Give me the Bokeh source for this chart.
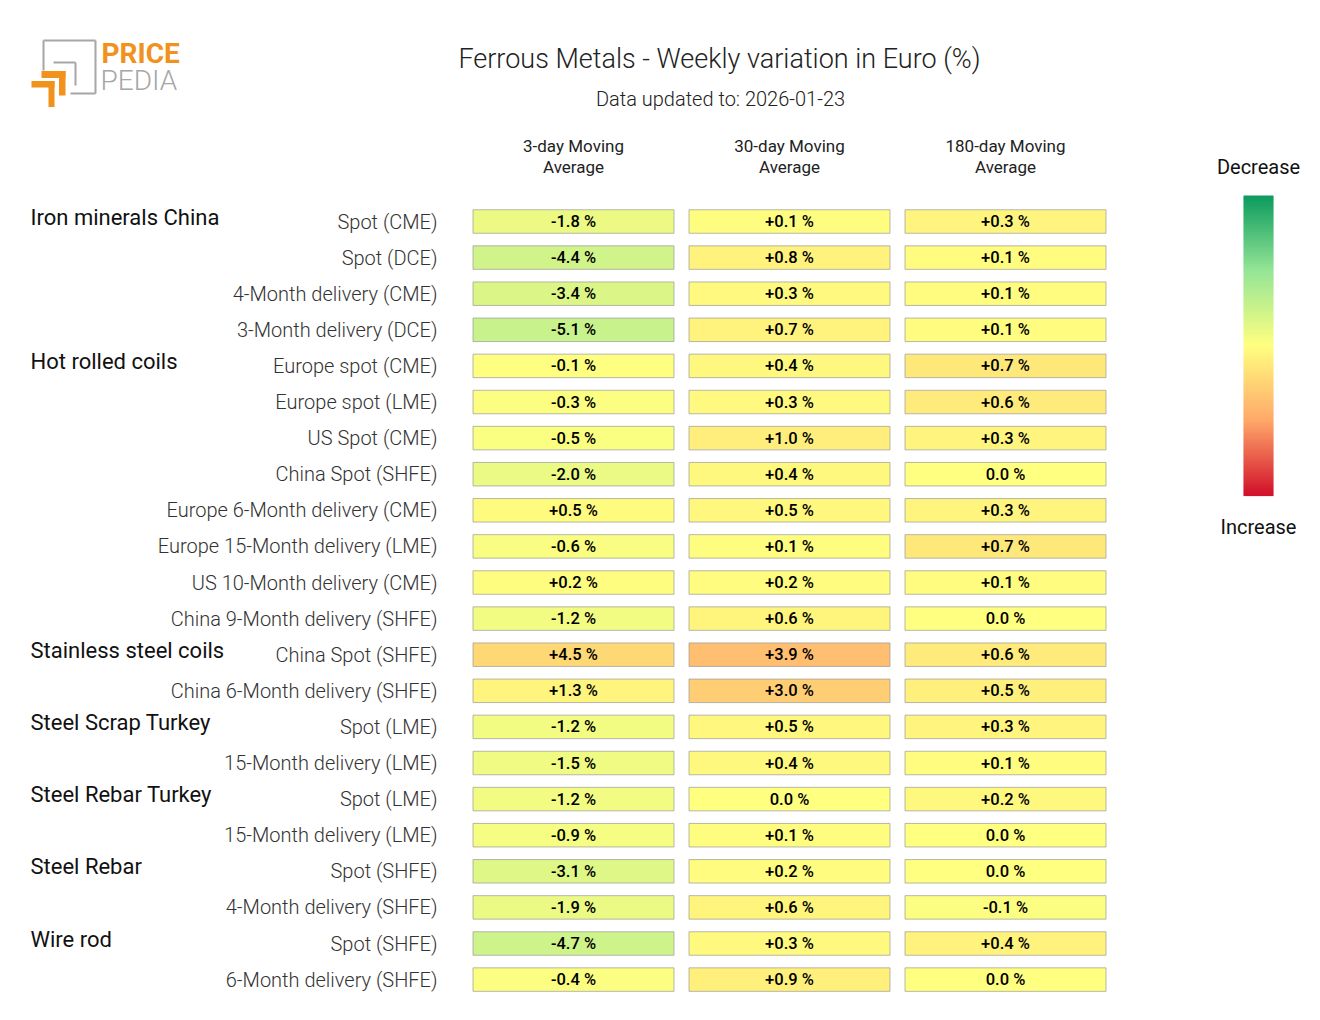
from bokeh.plotting import figure
from bokeh.models import Range1d, ColumnDataSource
from bokeh.core.properties import value
from bokeh.embed import file_html
from bokeh.resources import INLINE

# ---------------- data ----------------
title = "Ferrous Metals - Weekly variation in Euro (%)"
subtitle = "Data updated to: 2026-01-23"
col_headers = [("3-day Moving", "Average"), ("30-day Moving", "Average"), ("180-day Moving", "Average")]
row_labels = ["Spot (CME)", "Spot (DCE)", "4-Month delivery (CME)", "3-Month delivery (DCE)",
              "Europe spot (CME)", "Europe spot (LME)", "US Spot (CME)", "China Spot (SHFE)",
              "Europe 6-Month delivery (CME)", "Europe 15-Month delivery (LME)",
              "US 10-Month delivery (CME)", "China 9-Month delivery (SHFE)",
              "China Spot (SHFE)", "China 6-Month delivery (SHFE)",
              "Spot (LME)", "15-Month delivery (LME)",
              "Spot (LME)", "15-Month delivery (LME)",
              "Spot (SHFE)", "4-Month delivery (SHFE)",
              "Spot (SHFE)", "6-Month delivery (SHFE)"]
group_names = ["Iron minerals China", "Hot rolled coils", "Stainless steel coils",
               "Steel Scrap Turkey", "Steel Rebar Turkey", "Steel Rebar", "Wire rod"]
group_start_rows = [0, 4, 12, 14, 16, 18, 20]
ma3 = [-1.8, -4.4, -3.4, -5.1, -0.1, -0.3, -0.5, -2.0, 0.5, -0.6, 0.2, -1.2,
       4.5, 1.3, -1.2, -1.5, -1.2, -0.9, -3.1, -1.9, -4.7, -0.4]
ma30 = [0.1, 0.8, 0.3, 0.7, 0.4, 0.3, 1.0, 0.4, 0.5, 0.1, 0.2, 0.6,
        3.9, 3.0, 0.5, 0.4, 0.0, 0.1, 0.2, 0.6, 0.3, 0.9]
ma180 = [0.3, 0.1, 0.1, 0.1, 0.7, 0.6, 0.3, 0.0, 0.3, 0.7, 0.1, 0.0,
         0.6, 0.5, 0.3, 0.1, 0.2, 0.0, 0.0, -0.1, 0.4, 0.0]
columns = [ma3, ma30, ma180]
col_scale = [20.0, 10.5, 5.3]
legend_top = "Decrease"
legend_bottom = "Increase"

# ---------------- styling ----------------
FONT = "Roboto"
stops = [(0.0, (11, 154, 94)), (0.25, (148, 229, 150)), (0.5, (255, 255, 128)),
         (0.75, (255, 168, 106)), (1.0, (209, 15, 42))]


def cmap(t):
    t = max(0.0, min(1.0, t))
    for (t0, c0), (t1, c1) in zip(stops[:-1], stops[1:]):
        if t <= t1:
            f = (t - t0) / (t1 - t0)
            r, g, b = (round(a + (b_ - a) * f) for a, b_ in zip(c0, c1))
            return "#%02x%02x%02x" % (r, g, b)
    return "#%02x%02x%02x" % stops[-1][1]


def fmt(v):
    if v > 0:
        return "+%.1f %%" % v
    if v < 0:
        return "-%.1f %%" % abs(v)
    return "0.0 %"


W, H = 1304, 1004
COLW, ROWH = 216.0, 36.1
X0, Y0 = 573.0, 221.0  # pixel centre of first cell


def X(px):  # pixel -> data x
    return (px - X0) / COLW


def Y(py):  # pixel -> data y
    return (py - Y0) / ROWH


p = figure(width=W, height=H, output_backend="svg", toolbar_location=None,
           x_range=Range1d(-X0 / COLW, (W - X0) / COLW),
           y_range=Range1d((H - Y0) / ROWH, -Y0 / ROWH),
           min_border=0, outline_line_color=None)
p.axis.visible = False
p.grid.visible = False
p.background_fill_color = "white"
p.border_fill_color = "white"

# cells
xs, ys, cols, txt = [], [], [], []
for c, vals in enumerate(columns):
    for r, v in enumerate(vals):
        xs.append(c)
        ys.append(r)
        cols.append(cmap(0.5 + 0.5 * v / col_scale[c]))
        txt.append(fmt(v))
src = ColumnDataSource(dict(x=xs, y=ys, color=cols, text=txt))
p.rect("x", "y", width=201 / COLW, height=23.5 / ROWH, source=src, fill_color="color",
       line_color="#9a9a9a", line_alpha=0.7, line_width=1)
p.text("x", "y", text="text", source=src, text_font=value("Roboto Medium"), text_font_size="16.5px",
       text_align="center", text_baseline="middle", text_color="#000000")

# row labels
p.text([X(437)] * len(row_labels), list(range(len(row_labels))), text=row_labels,
       text_font=value("Roboto Light"), text_font_size="20px", text_align="right",
       text_baseline="middle", text_color="#333333")

# group labels
p.text([X(30)] * len(group_names), [r - 0.12 for r in group_start_rows], text=group_names,
       text_font=value(FONT), text_font_size="22px", text_align="left",
       text_baseline="middle", text_color="#111111")

# column headers
for c, (l1, l2) in enumerate(col_headers):
    p.text([c], [Y(145)], text=[l1], text_font=value(FONT), text_font_size="17px",
           text_align="center", text_baseline="middle", text_color="#222222")
    p.text([c], [Y(166)], text=[l2], text_font=value(FONT), text_font_size="17px",
           text_align="center", text_baseline="middle", text_color="#222222")

# title
p.text([X(719)], [Y(58)], text=[title], text_font=value("Roboto Light"), text_font_size="27px",
       text_align="center", text_baseline="middle", text_color="#222222")
p.text([X(720)], [Y(98)], text=[subtitle], text_font=value("Roboto Light"), text_font_size="20px",
       text_align="center", text_baseline="middle", text_color="#222222")

# colour legend bar
n = 150
top, bot = 195.0, 495.0
step = (bot - top) / n
lefts, rights, tops, bots, ccols = [], [], [], [], []
for i in range(n):
    lefts.append(X(1243))
    rights.append(X(1273))
    tops.append(Y(top + i * step))
    bots.append(Y(top + (i + 1) * step + 0.6))
    ccols.append(cmap((i + 0.5) / n))
p.quad(left=lefts, right=rights, top=tops, bottom=bots, fill_color=ccols, line_color=None)
p.text([X(1258)], [Y(166)], text=[legend_top], text_font=value(FONT), text_font_size="20px",
       text_align="center", text_baseline="middle", text_color="#111111")
p.text([X(1258)], [Y(526)], text=[legend_bottom], text_font=value(FONT), text_font_size="20px",
       text_align="center", text_baseline="middle", text_color="#111111")

# logo
gray = "#a6a6a6"
orange = "#f0921c"
seg = [((43, 40), (95, 40)), ((95, 40), (95, 93)), ((70, 93), (95, 93)), ((43, 40), (43, 70)),
       ((53, 62), (75, 62)), ((75, 62), (75, 85))]
p.segment(x0=[X(a[0]) for a, b in seg], y0=[Y(a[1]) for a, b in seg],
          x1=[X(b[0]) for a, b in seg], y1=[Y(b[1]) for a, b in seg],
          line_color=gray, line_width=2)
boxes = [(41, 65, 70.5, 77.5), (58.5, 65, 70.5, 95), (31, 54, 80.5, 87), (48, 54, 80.5, 106.5)]
p.quad(left=[X(b[0]) for b in boxes], right=[X(b[1]) for b in boxes],
       top=[Y(b[2]) for b in boxes], bottom=[Y(b[3]) for b in boxes],
       fill_color=orange, line_color=None)
p.text([X(101)], [Y(53)], text=["PRICE"], text_font=value(FONT), text_font_size="28px",
       text_font_style="bold", text_align="left", text_baseline="middle", text_color=orange)
p.text([X(100)], [Y(80)], text=["PEDIA"], text_font=value("Roboto Light"), text_font_size="28px",
       text_align="left", text_baseline="middle", text_color=gray)

open("out.html", "w").write(file_html(p, INLINE))
